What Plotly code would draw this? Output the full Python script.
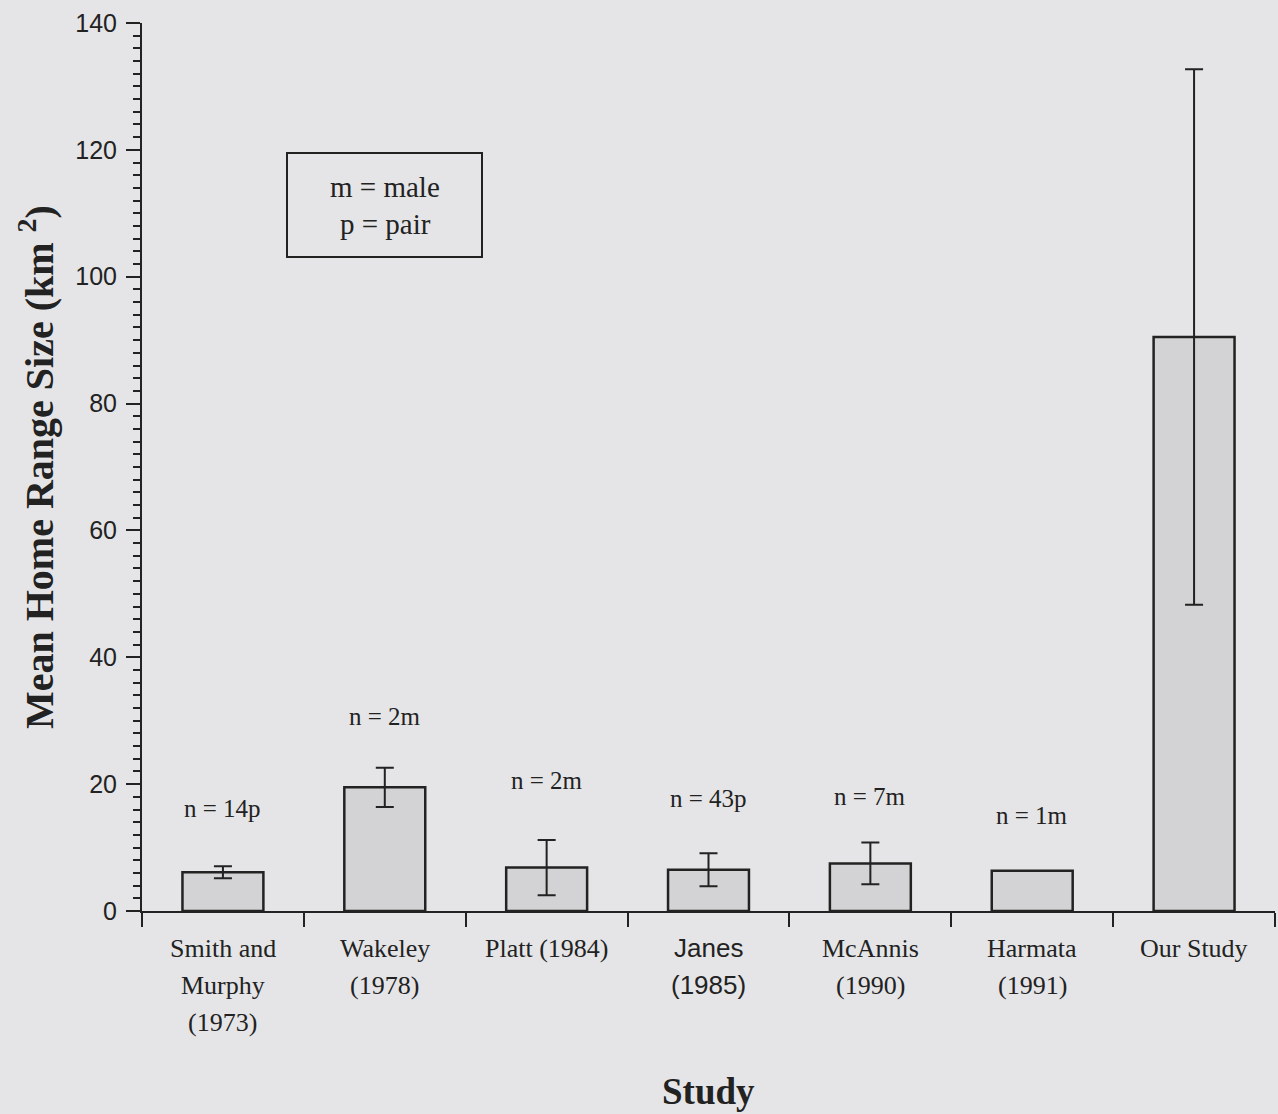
import plotly.graph_objects as go

# ---- data ----
studies = ["Smith and Murphy (1973)", "Wakeley (1978)", "Platt (1984)", "Janes (1985)",
           "McAnnis (1990)", "Harmata (1991)", "Our Study"]
label_lines = [["Smith and", "Murphy", "(1973)"], ["Wakeley", "(1978)"], ["Platt (1984)"],
               ["Janes", "(1985)"], ["McAnnis", "(1990)"], ["Harmata", "(1991)"], ["Our Study"]]
mean_range = [6.1, 19.5, 6.85, 6.5, 7.5, 6.35, 90.5]
err_range = [0.95, 3.1, 4.35, 2.6, 3.3, None, 42.2]
n_labels = ["n = 14p", "n = 2m", "n = 2m", "n = 43p", "n = 7m", "n = 1m", "n = 6m"]
y_ticks = [0, 20, 40, 60, 80, 100, 120, 140]

# ---- layout helpers (positions/styles) ----
n_label_heights = [16.2, 30.7, 20.5, 17.8, 18.0, 15.0, 140.2]
serif = "Liberation Serif, Times New Roman, serif"
sans = "Liberation Sans, Arial, sans-serif"
ink = "#222222"
bg = "#e5e5e7"

fig = go.Figure()
fig.add_trace(go.Bar(
    x=studies, y=mean_range, width=0.5,
    marker=dict(color="#d3d3d5", line=dict(color=ink, width=2.5)),
    showlegend=False, hoverinfo="skip",
))

ex = [s for s, e in zip(studies, err_range) if e is not None]
ey = [m for m, e in zip(mean_range, err_range) if e is not None]
ee = [e for e in err_range if e is not None]
fig.add_trace(go.Scatter(
    x=ex, y=ey, mode="markers", marker=dict(size=1, color="rgba(0,0,0,0)"),
    error_y=dict(type="data", array=ee, symmetric=True, color=ink, thickness=2, width=9),
    showlegend=False, hoverinfo="skip",
))

annotations = []
# x category labels (one annotation per line to match spacing)
for s, lines in zip(studies, label_lines):
    for k, line in enumerate(lines):
        fnt = sans if s.startswith("Janes") else serif
        annotations.append(dict(
            x=s, xref="x", y=0, yref="paper", yshift=-37 - 37 * k,
            text=line, showarrow=False, yanchor="middle", xanchor="center",
            font=dict(family=fnt, size=26, color=ink)))
# n labels
for s, t, h in zip(studies, n_labels, n_label_heights):
    annotations.append(dict(x=s, xref="x", y=h, yref="y", text=t, showarrow=False,
                            yanchor="middle", xanchor="center",
                            font=dict(family=serif, size=25, color=ink)))
# legend box text
for txt, py in (("m = male", 187), ("p = pair", 224)):
    annotations.append(dict(x=(385 - 142) / 1133, xref="paper", y=(911 - py) / 888, yref="paper",
                            text=txt, showarrow=False, yanchor="middle", xanchor="center",
                            font=dict(family=serif, size=29, color=ink)))
# axis titles
annotations.append(dict(x=0, xref="paper", xshift=-106, y=0.5, yref="paper",
                        text="Mean Home Range Size (km <sup>2</sup>)", textangle=-90,
                        showarrow=False, xanchor="center", yanchor="middle",
                        font=dict(family=serif, size=40, color=ink, weight="bold")))
annotations.append(dict(x=0.5, xref="paper", y=0, yref="paper", yshift=-180,
                        text="Study", showarrow=False, xanchor="center", yanchor="middle",
                        font=dict(family=serif, size=37, color=ink, weight="bold")))

fig.update_layout(
    width=1278, height=1114,
    margin=dict(l=142, r=3, t=23, b=203),
    paper_bgcolor=bg, plot_bgcolor=bg,
    annotations=annotations,
    shapes=[dict(type="rect", xref="paper", yref="paper",
                 x0=(287 - 142) / 1133, x1=(482 - 142) / 1133,
                 y0=(911 - 257) / 888, y1=(911 - 153) / 888,
                 line=dict(color=ink, width=2), fillcolor="rgba(0,0,0,0)")],
    xaxis=dict(type="category", range=[-0.5, 6.5], showticklabels=False,
               tickson="boundaries", ticks="outside", ticklen=14, tickwidth=2, tickcolor=ink,
               showline=True, linewidth=2, linecolor=ink, showgrid=False, zeroline=False,
               fixedrange=True),
    yaxis=dict(range=[0, 140], tickvals=y_ticks, ticks="outside", ticklen=14, tickwidth=2,
               tickcolor=ink, showline=True, linewidth=2, linecolor=ink, showgrid=False,
               zeroline=False, ticklabelstandoff=4,
               tickfont=dict(family=sans, size=25, color=ink),
               minor=dict(dtick=2, ticks="outside", ticklen=7, tickwidth=1.5, tickcolor=ink,
                          showgrid=False)),
)

fig.write_html("out.html", config={"displayModeBar": False},
               post_script="document.body.style.margin='0';document.body.style.background='%s';" % bg)
